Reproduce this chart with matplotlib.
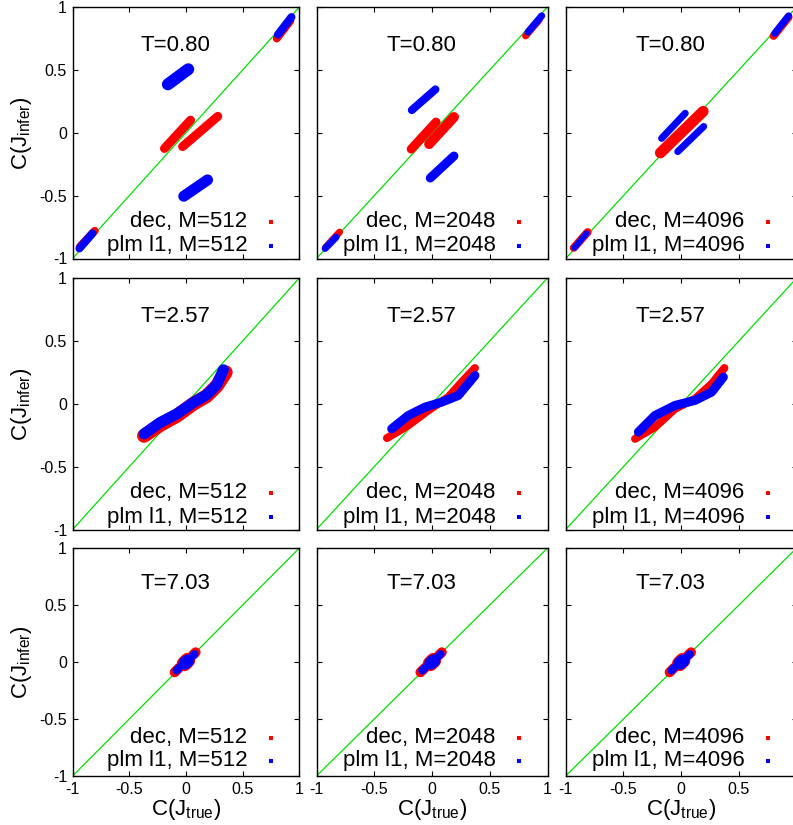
import matplotlib
matplotlib.use('Agg')
import matplotlib.pyplot as plt
from matplotlib.transforms import offset_copy

plt.rcParams['font.family'] = ['Liberation Sans', 'DejaVu Sans']
plt.rcParams['mathtext.fontset'] = 'custom'
plt.rcParams['mathtext.rm'] = 'Liberation Sans'
plt.rcParams['mathtext.it'] = 'Liberation Sans:italic'

temperatures = ['0.80', '2.57', '7.03']
sample_sizes = [512, 2048, 4096]
ticks = [-1, -0.5, 0, 0.5, 1]
tick_labels = ['-1', '-0.5', '0', '0.5', '1']

# Each cluster of points: (x path, y path, band thickness in px)
# ---- T = 0.80 ----
dec_T080_M512 = [
    ([-0.19, 0.04], [-0.125, 0.10], 9),
    ([-0.03, 0.28], [-0.11, 0.13], 9),
    ([-0.935, -0.805], [-0.905, -0.78], 8),
    ([0.80, 0.92], [0.75, 0.89], 8),
]
plm_T080_M512 = [
    ([-0.16, 0.02], [0.385, 0.505], 12),
    ([-0.02, 0.19], [-0.505, -0.375], 11),
    ([-0.94, -0.825], [-0.92, -0.80], 8),
    ([0.81, 0.93], [0.78, 0.92], 8),
]
dec_T080_M2048 = [
    ([-0.18, 0.035], [-0.13, 0.085], 9),
    ([-0.025, 0.19], [-0.09, 0.125], 10),
    ([-0.92, -0.80], [-0.91, -0.79], 7),
    ([0.81, 0.93], [0.77, 0.90], 7),
]
plm_T080_M2048 = [
    ([-0.175, 0.03], [0.18, 0.345], 8),
    ([-0.015, 0.19], [-0.36, -0.185], 9),
    ([-0.925, -0.83], [-0.92, -0.83], 7),
    ([0.83, 0.95], [0.80, 0.93], 7),
]
dec_T080_M4096 = [
    ([-0.18, 0.19], [-0.16, 0.17], 11),
    ([-0.93, -0.81], [-0.915, -0.79], 8),
    ([0.80, 0.93], [0.77, 0.92], 8),
]
plm_T080_M4096 = [
    ([-0.17, 0.035], [-0.045, 0.155], 7),
    ([-0.03, 0.195], [-0.15, 0.05], 7),
    ([-0.925, -0.82], [-0.915, -0.80], 6),
    ([0.81, 0.93], [0.79, 0.93], 7),
]
# ---- T = 2.57 ----
dec_T257_M512 = [
    ([-0.37, -0.23, -0.08, 0.065, 0.18, 0.27, 0.35],
     [-0.255, -0.17, -0.095, 0.0, 0.06, 0.14, 0.25], 14),
]
plm_T257_M512 = [
    ([-0.37, -0.23, -0.08, 0.065, 0.18, 0.27, 0.33],
     [-0.24, -0.15, -0.08, 0.01, 0.07, 0.15, 0.27], 11),
]
dec_T257_M2048 = [
    ([-0.39, -0.205, -0.032, 0.141, 0.257, 0.372],
     [-0.273, -0.172, -0.053, 0.053, 0.172, 0.284], 8),
]
plm_T257_M2048 = [
    ([-0.349, -0.205, -0.061, 0.084, 0.228, 0.372],
     [-0.199, -0.093, -0.027, 0.013, 0.066, 0.225], 9),
]
dec_T257_M4096 = [
    ([-0.40, -0.227, -0.053, 0.12, 0.264, 0.374],
     [-0.279, -0.186, -0.04, 0.04, 0.159, 0.284], 8),
]
plm_T257_M4096 = [
    ([-0.371, -0.227, -0.053, 0.12, 0.264, 0.365],
     [-0.225, -0.093, -0.013, 0.027, 0.093, 0.212], 9),
]
# ---- T = 7.03 ----
dec_T703 = [
    ([-0.10, -0.06], [-0.09, -0.05], 10),
    ([-0.015, 0.015], [-0.015, 0.015], 15),
    ([0.06, 0.085], [0.06, 0.085], 10),
]
plm_T703 = [
    ([-0.085, -0.06], [-0.075, -0.05], 8),
    ([-0.01, 0.015], [-0.01, 0.01], 13),
    ([0.055, 0.075], [0.05, 0.07], 8),
]

dec_data = [[dec_T080_M512, dec_T080_M2048, dec_T080_M4096],
            [dec_T257_M512, dec_T257_M2048, dec_T257_M4096],
            [dec_T703, dec_T703, dec_T703]]
plm_data = [[plm_T080_M512, plm_T080_M2048, plm_T080_M4096],
            [plm_T257_M512, plm_T257_M2048, plm_T257_M4096],
            [plm_T703, plm_T703, plm_T703]]

RED = '#ff0000'
BLUE = '#0000ff'
GREEN = '#00e000'

W, H = 793, 825
fig = plt.figure(figsize=(W / 100, H / 100), dpi=100)

lefts = [72.6, 316.5, 565.7]
widths = [226.8, 231, 231]
tops = [7, 278, 548]
heights = [251.5, 251.5, 228]
legend_y = [(37, 12.5), (37, 12.5), (38.5, 15.5)]

PX = 0.72  # points per pixel at 100 dpi

for r in range(3):
    for c in range(3):
        rect = [lefts[c] / W, 1 - (tops[r] + heights[r]) / H,
                widths[c] / W, heights[r] / H]
        ax = fig.add_axes(rect)
        ax.set_xlim(-1, 1)
        ax.set_ylim(-1, 1)
        ax.plot([-1, 1], [-1, 1], color=GREEN, lw=0.9, zorder=1)
        for xs, ys, wpx in dec_data[r][c]:
            ax.plot(xs, ys, color=RED, lw=wpx * PX, solid_capstyle='round',
                    solid_joinstyle='round', zorder=2)
        for xs, ys, wpx in plm_data[r][c]:
            ax.plot(xs, ys, color=BLUE, lw=wpx * PX, solid_capstyle='round',
                    solid_joinstyle='round', zorder=3)
        ax.set_xticks(ticks)
        ax.set_yticks(ticks)
        ax.tick_params(direction='in', top=True, right=True, length=3.6,
                       width=0.8, labelsize=11.5, pad=4)
        if c == 0:
            ax.set_yticklabels(tick_labels)
            ax.set_ylabel(r'C(J$_{\mathrm{infer}}$)', fontsize=16, labelpad=4)
        else:
            ax.set_yticklabels([])
        if r == 2:
            # the last column's "1" label falls outside the picture
            xl = tick_labels if c < 2 else tick_labels[:-1] + ['']
            ax.set_xticklabels(xl)
            ax.set_xlabel(r'C(J$_{\mathrm{true}}$)', fontsize=16, labelpad=0)
        else:
            ax.set_xticklabels([])
        for s in ax.spines.values():
            s.set_linewidth(1.0)
        ax.text(0.455, 0.846, 'T=' + temperatures[r], transform=ax.transAxes,
                ha='center', va='center', fontsize=16)
        m = sample_sizes[c]
        labels = ['dec, M=%d' % m, 'plm l1, M=%d' % m]
        colors = [RED, BLUE]
        for k in range(2):
            t_tr = offset_copy(ax.transAxes, fig=fig, x=-52, y=legend_y[r][k], units='dots')
            ax.text(1, 0, labels[k], transform=t_tr, ha='right', va='center', fontsize=16)
            m_tr = offset_copy(ax.transAxes, fig=fig, x=-28.5, y=legend_y[r][k], units='dots')
            ax.plot([1], [0], 's', color=colors[k], ms=2.4, mew=0, transform=m_tr,
                    clip_on=False)

fig.savefig('out.png', dpi=100)
